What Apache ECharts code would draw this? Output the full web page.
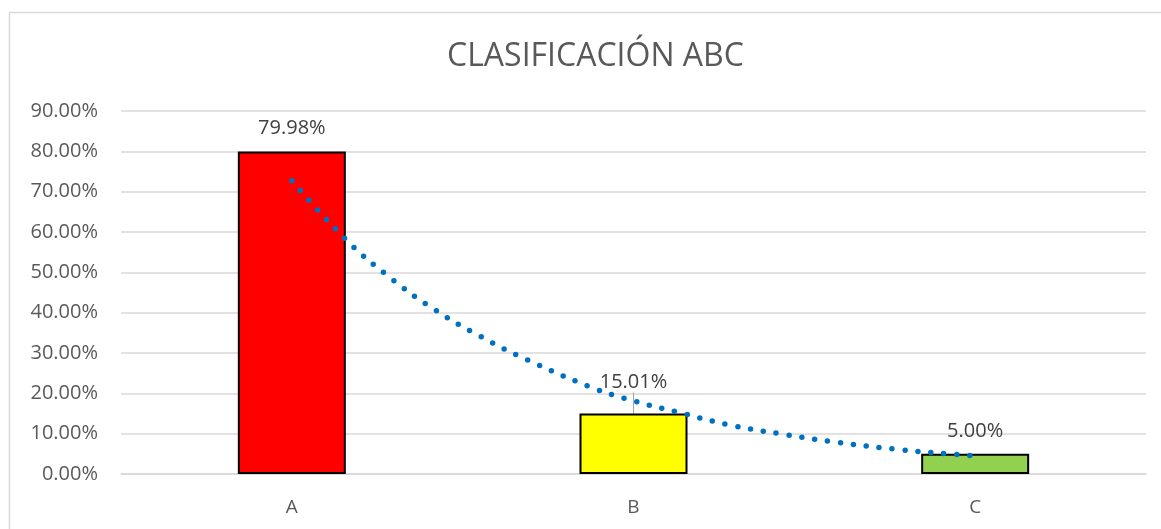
<!DOCTYPE html>
<html>
<head>
<meta charset="utf-8">
<script src="https://cdn.jsdelivr.net/npm/echarts@6/dist/echarts.min.js"></script>
<style>
  html, body { margin: 0; padding: 0; background: #fff; }
  #chart { width: 1161px; height: 529px; }
</style>
</head>
<body>
<div id="chart"></div>
<script>
'use strict';

const categories = ['A', 'B', 'C'];
const shares = [79.98, 15.01, 5.00];
const barColors = ['#FF0000', '#FFFF00', '#92D050'];
const yTicks = [0, 10, 20, 30, 40, 50, 60, 70, 80, 90];

// trend line (x in category units, 0 = A)
const trendX = [0, 0.16, 0.28, 0.41, 0.55, 0.69, 0.87, 0.98, 1.14, 1.29, 1.45, 1.6, 1.76, 1.92, 2.0];
const trendY = [72.7, 58.0, 49.2, 41.2, 34.2, 28.3, 21.7, 18.6, 15.1, 12.0, 9.7, 7.8, 6.2, 5.0, 4.5];

const font = 'Open Sans';
const chart = echarts.init(document.getElementById('chart'));

const option = {
  backgroundColor: '#fff',
  animation: false,
  title: {
    text: 'CLASIFICACIÓN ABC',
    left: 442,
    top: 36,
    textStyle: { fontFamily: font, fontSize: 32, fontWeight: 'normal', color: '#595959' },
  },
  graphic: [{
    type: 'rect',
    shape: { x: 9.5, y: 12.5, width: 1200, height: 600 },
    style: { fill: 'none', stroke: '#d9d9d9', lineWidth: 1.5 },
    silent: true,
  }],
  grid: { left: 121, right: 15, top: 111, bottom: 55 },
  xAxis: [{
    type: 'category',
    data: categories,
    axisTick: { show: false },
    axisLine: { lineStyle: { color: '#d9d9d9', width: 1.5 } },
    axisLabel: { fontFamily: font, fontSize: 19, color: '#595959', margin: 24 },
  }, {
    type: 'value',
    min: -0.5,
    max: 2.5,
    show: false,
  }],
  yAxis: {
    type: 'value',
    min: 0,
    max: yTicks[yTicks.length - 1],
    interval: 10,
    axisLine: { show: false },
    axisTick: { show: false },
    splitLine: { lineStyle: { color: '#d9d9d9', width: 1.5 } },
    axisLabel: {
      fontFamily: font, fontSize: 20, color: '#595959', margin: 23,
      formatter: (v) => v.toFixed(2) + '%',
    },
  },
  series: [{
    type: 'bar',
    xAxisIndex: 0,
    barWidth: 108,
    data: shares.map((v, i) => ({
      value: v,
      itemStyle: { color: barColors[i], borderColor: '#000', borderWidth: 2 },
      labelLine: { show: i === 1 },
    })),
    label: {
      show: true,
      position: 'top',
      distance: 13,
      fontFamily: font,
      fontSize: 20,
      color: '#404040',
      formatter: (p) => p.value.toFixed(2) + '%',
    },
    labelLayout: (p) => (p.dataIndex === 1 ? { dy: -8 } : {}),
    labelLine: { show: false, lineStyle: { color: '#a6a6a6', width: 1 } },
    z: 2,
  }, {
    type: 'line',
    xAxisIndex: 1,
    data: trendX.map((x, i) => [x, trendY[i]]),
    smooth: true,
    symbol: 'none',
    lineStyle: { color: '#0070C0', width: 5.5, type: [0, 13], cap: 'round' },
    z: 3,
  }],
};

chart.setOption(option);
</script>
</body>
</html>
